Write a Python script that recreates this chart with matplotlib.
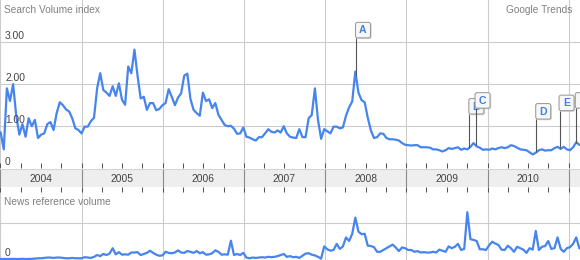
import matplotlib
matplotlib.use("Agg")
import matplotlib.pyplot as plt
import matplotlib.dates as mdates
from matplotlib.patches import FancyBboxPatch
from matplotlib.transforms import IdentityTransform
import numpy as np
import pandas as pd

# values, one every two weeks from Jan 2004
search_volume = [
    0.85, 0.45, 1.90, 1.60, 2.00, 1.25, 0.80, 1.05, 0.75, 1.19,
    1.00, 1.15, 0.72, 0.80, 0.83, 1.05, 1.10, 0.91, 1.31, 1.57,
    1.50, 1.40, 1.35, 1.19, 0.95, 0.91, 0.83, 0.99, 0.99, 1.12,
    1.20, 1.90, 2.26, 1.86, 1.80, 1.72, 1.95, 1.72, 2.02, 1.63,
    1.51, 2.42, 2.26, 2.82, 2.20, 1.66, 1.70, 1.39, 1.55, 1.55,
    1.38, 1.41, 1.50, 1.55, 1.88, 1.70, 1.50, 1.68, 1.78, 2.20,
    2.25, 1.65, 1.39, 1.31, 1.25, 1.80, 1.60, 1.64, 1.43, 1.55,
    1.27, 1.15, 1.03, 1.00, 1.01, 0.94, 0.82, 0.83, 0.97, 0.75,
    0.73, 0.69, 0.66, 0.74, 0.74, 0.83, 0.93, 0.87, 0.85, 0.90,
    0.85, 1.00, 0.83, 0.75, 0.73, 0.72, 0.93, 0.74, 0.74, 1.19,
    1.27, 1.90, 1.15, 0.70, 0.93, 0.88, 0.83, 0.99, 0.99, 0.95,
    0.97, 1.25, 1.45, 1.59, 2.30, 1.80, 1.62, 1.57, 1.20, 0.90,
    0.72, 0.74, 0.83, 0.82, 0.72, 0.69, 0.69, 0.68, 0.66, 0.60,
    0.56, 0.55, 0.54, 0.55, 0.55, 0.50, 0.50, 0.50, 0.49, 0.45,
    0.45, 0.43, 0.40, 0.43, 0.48, 0.46, 0.48, 0.50, 0.44, 0.47,
    0.45, 0.51, 0.60, 0.52, 0.49, 0.44, 0.45, 0.44, 0.47, 0.45,
    0.48, 0.50, 0.48, 0.50, 0.55, 0.53, 0.49, 0.45, 0.44, 0.43,
    0.38, 0.33, 0.37, 0.43, 0.45, 0.42, 0.43, 0.43, 0.48, 0.51,
    0.46, 0.51, 0.45, 0.43, 0.50, 0.62, 0.56,
]
news_volume = [
    0.00, 0.00, 0.00, 0.00, 0.005, 0.00, 0.00, 0.005, 0.00, 0.00,
    0.005, 0.01, 0.02, 0.02, 0.03, 0.04, 0.04, 0.03, 0.04, 0.04,
    0.03, 0.02, 0.02, 0.03, 0.02, 0.02, 0.02, 0.05, 0.04, 0.03,
    0.06, 0.11, 0.08, 0.14, 0.11, 0.15, 0.30, 0.13, 0.19, 0.12,
    0.13, 0.12, 0.18, 0.18, 0.19, 0.11, 0.14, 0.17, 0.23, 0.17,
    0.12, 0.09, 0.10, 0.20, 0.17, 0.16, 0.18, 0.24, 0.18, 0.17,
    0.22, 0.20, 0.17, 0.22, 0.16, 0.19, 0.12, 0.13, 0.16, 0.24,
    0.20, 0.12, 0.13, 0.12, 0.51, 0.11, 0.14, 0.11, 0.17, 0.04,
    0.02, 0.04, 0.03, 0.04, 0.05, 0.04, 0.06, 0.05, 0.06, 0.08,
    0.11, 0.14, 0.06, 0.08, 0.05, 0.06, 0.03, 0.09, 0.15, 0.16,
    0.12, 0.10, 0.06, 0.01, 0.35, 0.27, 0.23, 0.25, 0.42, 0.28,
    0.35, 0.60, 0.50, 0.70, 1.15, 0.76, 0.69, 0.70, 0.37, 0.36,
    0.33, 0.20, 0.20, 0.25, 0.30, 0.35, 0.40, 0.32, 0.22, 0.32,
    0.30, 0.25, 0.25, 0.20, 0.22, 0.18, 0.19, 0.18, 0.18, 0.20,
    0.18, 0.26, 0.23, 0.20, 0.35, 0.30, 0.34, 0.42, 0.25, 0.28,
    1.30, 0.55, 0.53, 0.50, 0.27, 0.27, 0.25, 0.38, 0.48, 0.43,
    0.39, 0.26, 0.25, 0.37, 0.30, 0.20, 0.34, 0.30, 0.26, 0.17,
    0.30, 0.26, 0.78, 0.25, 0.34, 0.36, 0.50, 0.28, 0.30, 0.60,
    0.28, 0.20, 0.30, 0.33, 0.42, 0.60, 0.30,
]
weeks = pd.date_range("2004-01-02", periods=len(search_volume), freq="14D")
years = [2004, 2005, 2006, 2007, 2008, 2009, 2010]
event_labels = ["A", "B", "C", "D", "E", "F"]
event_dates = pd.to_datetime(["2008-05-19", "2009-10-11", "2009-11-08",
                              "2010-08-08", "2010-11-21", "2011-02-02"])
event_box_y = [3.10, 1.29, 1.43, 1.17, 1.37, 1.43]  # bottom of each flag

plt.rcParams["font.family"] = ["Liberation Sans", "DejaVu Sans"]

W, H = 580, 260
LINE = "#4684ee"
GRID = "#cccccc"
TICK = "#555555"

fig = plt.figure(figsize=(W / 100, H / 100), dpi=100)


def px_axes(top, bottom):
    return fig.add_axes([0, 1 - bottom / H, 1, (bottom - top) / H])


ax_top = px_axes(0, 168.3)
ax_band = px_axes(169, 187)
ax_news = px_axes(187, 260)

x0 = mdates.date2num(pd.Timestamp("2003-12-30"))
x1 = mdates.date2num(pd.Timestamp("2011-02-21"))

for ax in (ax_top, ax_band, ax_news):
    ax.set_xlim(x0, x1)
    ax.xaxis.set_major_locator(mdates.YearLocator())
    ax.xaxis.set_minor_locator(mdates.MonthLocator(bymonth=[4, 7, 10]))
    ax.set_yticks([])
    for s in ax.spines.values():
        s.set_visible(False)

# ---- search volume ----
ax_top.plot(weeks, search_volume, color=LINE, lw=1.6, solid_joinstyle="round", zorder=3)
ax_top.set_ylim(0, 4)
ax_top.set_yticks([1, 2, 3])
ax_top.yaxis.grid(True, color=GRID, lw=0.8)
ax_top.xaxis.grid(True, which="major", color=GRID, lw=0.8)
ax_top.tick_params(axis="y", length=0, labelleft=False)
ax_top.tick_params(axis="x", which="both", direction="in", length=3.6, width=0.75,
                   color=TICK, labelbottom=False)

ytr = ax_top.get_yaxis_transform()
for v, lab in [(0, "0"), (1, "1.00"), (2, "2.00"), (3, "3.00")]:
    ax_top.text(5 / W, v + 0.155, lab, transform=ytr, ha="left", va="center",
                fontsize=7.4, color="#444444", zorder=4)
ax_top.text(4 / W, 0.94, "Search Volume index", transform=ax_top.transAxes,
            ha="left", va="center", fontsize=7.3, color="#808080")
ax_top.text(572.5 / W, 0.94, "Google Trends", transform=ax_top.transAxes,
            ha="right", va="center", fontsize=7.3, color="#808080")

# event flags
fig.canvas.draw()
wnum = mdates.date2num(weeks)
for k, (lab, d, by) in enumerate(zip(event_labels, event_dates, event_box_y)):
    dn = mdates.date2num(d)
    val = np.interp(dn, wnum, search_volume)
    ax_top.vlines(dn, val, by, color="#555555", lw=0.8, zorder=5 + k)
    px, py = ax_top.transData.transform((dn, by))
    shadow = FancyBboxPatch((px - 0.5 + 1.2, py - 1.2), 15, 15.5,
                            boxstyle="round,pad=0,rounding_size=2",
                            transform=IdentityTransform(), facecolor="#bbbbbb",
                            edgecolor="none", alpha=0.6, zorder=5 + k)
    box = FancyBboxPatch((px - 0.5, py), 15, 15.5,
                         boxstyle="round,pad=0,rounding_size=2",
                         transform=IdentityTransform(), facecolor="#f7f7f7",
                         edgecolor="#9a9a9a", lw=0.75, zorder=5 + k)
    for p in (shadow, box):
        p.set_clip_box(ax_top.bbox)
        ax_top.add_artist(p)
    ax_top.text(px + 7, py + 7.5, lab, transform=IdentityTransform(), ha="center",
                va="center", fontsize=7.6, fontweight="bold", color="#3f80e0",
                zorder=5 + k, clip_on=True)

# ---- year band ----
ax_band.set_facecolor("#eeeeee")
ax_band.set_ylim(0, 1)
for side in ("top", "bottom"):
    ax_band.spines[side].set_visible(True)
    ax_band.spines[side].set_color("#d4d4d4")
    ax_band.spines[side].set_linewidth(0.75)
ax_band.xaxis.grid(True, which="major", color="#8a8a8a", lw=0.8)
ax_band.tick_params(axis="x", which="both", length=0, labelbottom=False)
for yr in years:
    ax_band.text(pd.Timestamp(f"{yr}-07-02"), 0.42, str(yr), ha="center", va="center",
                 fontsize=7.4, color="#444444")

# ---- news reference volume ----
ax_news.plot(weeks, news_volume, color=LINE, lw=1.6, solid_joinstyle="round", zorder=3)
ax_news.set_ylim(-1 / 36, 2.0)
ax_news.set_yticks([1])
ax_news.yaxis.grid(True, color=GRID, lw=0.8)
ax_news.xaxis.grid(True, which="major", color=GRID, lw=0.8)
ax_news.xaxis.tick_top()
ax_news.tick_params(axis="y", length=0, labelleft=False)
ax_news.tick_params(axis="x", which="both", direction="in", length=3.6, width=0.75,
                    color=TICK, labeltop=False, labelbottom=False)
ax_news.text(4 / W, 0.80, "News reference volume", transform=ax_news.transAxes,
             ha="left", va="center", fontsize=7.3, color="#808080")
ax_news.text(5 / W, 0.092, "0", transform=ax_news.transAxes, ha="left", va="center",
             fontsize=7.4, color="#444444")

fig.savefig("out.png", dpi=100)
